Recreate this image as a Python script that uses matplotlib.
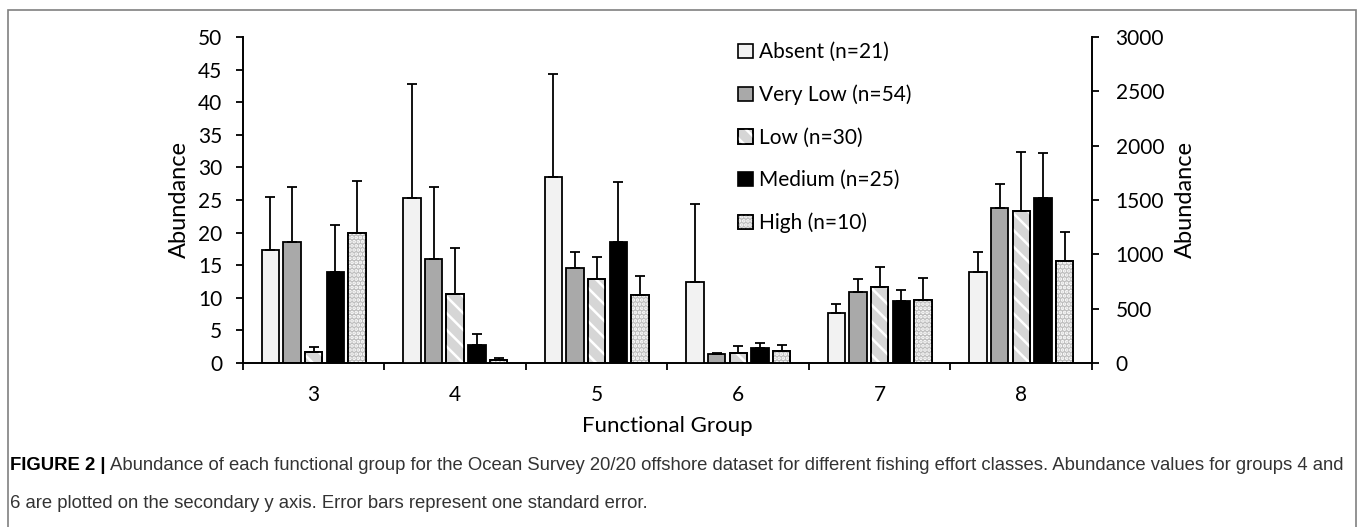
import numpy as np
import matplotlib.pyplot as plt
from matplotlib.patches import Patch, Rectangle
from matplotlib.legend_handler import HandlerTuple

plt.rcParams["font.family"] = ["Lato", "DejaVu Sans"]
plt.rcParams["hatch.linewidth"] = 1.8

groups = ["3", "4", "5", "6", "7", "8"]
on_secondary = [False, True, False, True, False, False]

classes = ["Absent (n=21)", "Very Low (n=54)", "Low (n=30)",
           "Medium (n=25)", "High (n=10)"]

absent_mean = [17.4, 1520, 28.6, 749, 7.7, 14.0]
absent_se = [8.1, 1044, 15.7, 713, 1.4, 3.1]
very_low_mean = [18.6, 955, 14.5, 83, 10.9, 23.7]
very_low_se = [8.4, 660, 2.5, 12, 2.0, 3.7]
low_mean = [1.7, 639, 12.9, 95, 11.6, 23.3]
low_se = [0.8, 421, 3.3, 59, 3.2, 9.0]
medium_mean = [13.9, 169, 18.6, 138, 9.5, 25.3]
medium_se = [7.2, 101, 9.2, 49, 1.7, 6.9]
high_mean = [19.9, 31, 10.4, 114, 9.7, 15.7]
high_se = [8.0, 15, 2.9, 49, 3.4, 4.4]

means = [absent_mean, very_low_mean, low_mean, medium_mean, high_mean]
errors = [absent_se, very_low_se, low_se, medium_se, high_se]

# fill colour and white hatch per class
fills = ["#f2f2f2", "#a9a9a9", "#d6d6d6", "#000000", "#bdbdbd"]
hatches = [None, None, "\\\\", None, "...."]

fig = plt.figure(figsize=(13.58, 5.27), dpi=100)
ax = fig.add_axes([0.1789, 0.3112, 0.6252, 0.6186])
ax2 = ax.twinx()

centers = np.arange(len(groups)) + 3
step, width = 0.153, 0.123
sec = np.array(on_secondary)

handles = []
for i, (m, e) in enumerate(zip(means, errors)):
    m = np.asarray(m, float)
    e = np.asarray(e, float)
    x = centers + (i - 2) * step
    for axis, mask in ((ax, ~sec), (ax2, sec)):
        axis.bar(x[mask], m[mask], width, color=fills[i], edgecolor="black",
                 linewidth=1.3, zorder=2)
        if hatches[i]:
            axis.bar(x[mask], m[mask], width, facecolor="none",
                     edgecolor="white", linewidth=0, hatch=hatches[i], zorder=2)
            axis.bar(x[mask], m[mask], width, facecolor="none",
                     edgecolor="black", linewidth=1.3, zorder=2)
        axis.errorbar(x[mask], m[mask], yerr=[np.zeros(mask.sum()), e[mask]],
                      fmt="none", ecolor="black", elinewidth=1.3,
                      capsize=3.6, capthick=1.3, zorder=3)
    base = Patch(facecolor=fills[i], edgecolor="black", linewidth=1.2)
    if hatches[i]:
        handles.append((base,
                        Patch(facecolor="none", edgecolor="white",
                              linewidth=0, hatch=hatches[i]),
                        Patch(facecolor="none", edgecolor="black",
                              linewidth=1.2)))
    else:
        handles.append(base)

ax.set_xlim(2.5, 8.5)
ax.set_ylim(0, 50)
ax.set_yticks(np.arange(0, 51, 5))
ax2.set_ylim(0, 3000)
ax2.set_yticks(np.arange(0, 3001, 500))

ax.set_xticks(centers, groups)
ax.set_xticks(np.arange(2.5, 9.0, 1.0), minor=True)
ax.tick_params(axis="x", which="major", length=0, pad=16, labelsize=15)
ax.tick_params(axis="x", which="minor", length=5, width=1.3,
               direction="out")
ax.tick_params(axis="y", length=5, width=1.3, direction="out",
               pad=10, labelsize=15)
ax2.tick_params(axis="y", length=5, width=1.3, direction="out",
                pad=12, labelsize=15)

for s in ("top", "right"):
    ax.spines[s].set_visible(False)
for s in ("top", "left", "bottom"):
    ax2.spines[s].set_visible(False)
for s in ("left", "bottom"):
    ax.spines[s].set_linewidth(1.4)
ax2.spines["right"].set_linewidth(1.4)

ax.set_ylabel("Abundance", fontsize=17, labelpad=6)
ax2.set_ylabel("Abundance", fontsize=17, labelpad=8)
ax.set_xlabel("Functional Group", fontsize=16, labelpad=8)

fig.legend(handles, classes, loc="upper left",
           bbox_to_anchor=(0.5434, 0.920), frameon=False, fontsize=15,
           handlelength=0.7, handleheight=0.7, handletextpad=0.3,
           labelspacing=1.08, borderpad=0, borderaxespad=0,
           handler_map={tuple: HandlerTuple(ndivide=1)})

# outer frame around the figure and its caption
fig.patches.append(Rectangle((0.0059, -0.02), 0.9926, 1.001, fill=False,
                             edgecolor="#808080", linewidth=1.2,
                             transform=fig.transFigure, figure=fig))

cap_font = ["Liberation Sans", "DejaVu Sans"]
head = fig.text(0.0074, 1 - 466 / 527, "FIGURE 2 |", family=cap_font,
                fontweight="bold", fontsize=13.35, va="center", color="black")
ax.annotate("Abundance of each functional group for the Ocean Survey 20/20 "
            "offshore dataset for different fishing effort classes. "
            "Abundance values for groups 4 and",
            xy=(1, 0.5), xycoords=head, xytext=(3, 0),
            textcoords="offset points", va="center", family=cap_font,
            fontsize=13.35, color="#333333", annotation_clip=False)
fig.text(0.0074, 1 - 503 / 527,
         "6 are plotted on the secondary y axis. Error bars represent one "
         "standard error.", family=cap_font, fontsize=13.35, va="center",
         color="#333333")

fig.savefig("out.png", dpi=100)
